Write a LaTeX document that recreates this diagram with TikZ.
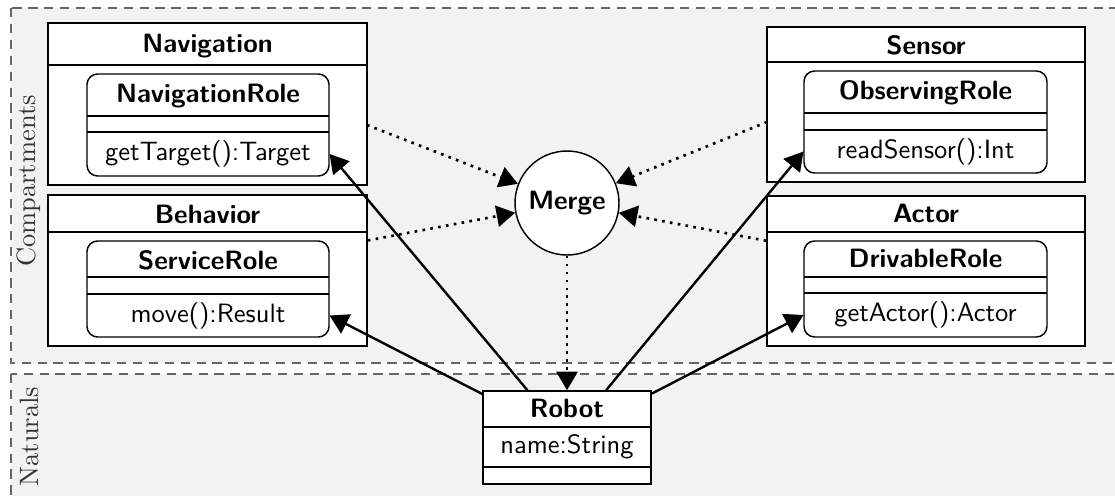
\documentclass[tikz,border=0pt]{standalone}
\usetikzlibrary{arrows.meta}
\newdimen\pxu \pxu=0.37736pt
\definecolor{bggray}{HTML}{F2F2F2}
\definecolor{dashgray}{HTML}{666666}
\begin{document}
\begin{tikzpicture}[x=0.37736pt,y=-0.37736pt,
  box/.style={draw=black, fill=white, inner sep=0, line width=0.6pt},
  rolebox/.style={draw=black, fill=white, rounded corners=4pt, inner sep=0, line width=0.55pt},
  region/.style={draw=dashgray, dash pattern=on 3.5pt off 2.5pt, fill=bggray, line width=0.7pt},
  sep/.style={line width=0.55pt},
  txt/.style={font=\sffamily, anchor=base, inner sep=0},
  ttl/.style={font=\sffamily\bfseries, anchor=base, inner sep=0},
  part/.style={inner sep=0, font=\sffamily},
  lbl/.style={font=\rmfamily, rotate=90, inner sep=0, text=black!80},
  assoc/.style={line width=0.9pt, -{Triangle[length=7pt,width=8pt]}},
  merg/.style={line width=1pt, dotted, -{Triangle[length=7pt,width=8pt]}}
]
\useasboundingbox (0,0) rectangle (1115,495);
\clip (0,0) rectangle (1115,495);
\fill[white] (0,0) rectangle (1115,495);
% regions
\draw[region] (11,8) rectangle (1140,363);
\draw[region] (11,374) rectangle (1140,520);
\node[lbl] (lcomp) at (29,181) {Compartments};
\node[lbl] (lnat) at (29,436.5) {Naturals};

% Navigation
\node[box, minimum width=319\pxu, minimum height=162\pxu] (nav) at (207.5,104) {};
\draw[sep] (48,65) -- (367,65);
\coordinate (navb) at (367,125);
\node[ttl] (navt) at (207.5,52) {Navigation};
\node[rolebox, minimum width=242\pxu, minimum height=102\pxu] (navr) at (208,125) {};
\draw[sep] (87,116) -- (329,116);
\draw[sep] (87,132) -- (329,132);
\node[ttl] (navrt) at (208,102) {NavigationRole};
\node[part, minimum width=242\pxu, minimum height=44\pxu] (navm) at (208,154) {getTarget():Target};

% Behavior
\node[box, minimum width=319\pxu, minimum height=151\pxu] (beh) at (207.5,270.5) {};
\draw[sep] (48,232) -- (367,232);
\node[ttl] (beht) at (207.5,223) {Behavior};
\node[rolebox, minimum width=242\pxu, minimum height=96\pxu] (serr) at (208,289) {};
\draw[sep] (87,277) -- (329,277);
\draw[sep] (87,294) -- (329,294);
\node[ttl] (serrt) at (208,269) {ServiceRole};
\node[part, minimum width=242\pxu, minimum height=43\pxu] (serm) at (208,315.5) {move():Result};

% Sensor
\node[box, minimum width=318\pxu, minimum height=155\pxu] (sen) at (926,104.5) {};
\draw[sep] (767,62) -- (1085,62);
\coordinate (senb) at (767,122);
\node[ttl] (sent) at (926,54) {Sensor};
\node[rolebox, minimum width=243\pxu, minimum height=102\pxu] (obsr) at (925.5,122) {};
\draw[sep] (804,113) -- (1047,113);
\draw[sep] (804,130) -- (1047,130);
\node[ttl] (obsrt) at (925.5,99.5) {ObservingRole};
\node[part, minimum width=243\pxu, minimum height=43\pxu] (obsm) at (925.5,151.5) {readSensor():Int};

% Actor
\node[box, minimum width=318\pxu, minimum height=150\pxu] (act) at (926,271) {};
\draw[sep] (767,232) -- (1085,232);
\node[ttl] (actt) at (926,222.7) {Actor};
\node[rolebox, minimum width=243\pxu, minimum height=96\pxu] (drvr) at (925.5,289) {};
\draw[sep] (804,277) -- (1047,277);
\draw[sep] (804,293) -- (1047,293);
\node[ttl] (drvrt) at (925.5,267.3) {DrivableRole};
\node[part, minimum width=243\pxu, minimum height=44\pxu] (drvm) at (925.5,315) {getActor():Actor};

% Robot
\node[box, minimum width=168\pxu, minimum height=93\pxu] (robot) at (567,437.5) {};
\draw[sep] (483,427) -- (651,427);
\draw[sep] (483,467) -- (651,467);
\node[ttl] (robt) at (567,417.7) {Robot};
\node[txt] (roba) at (567,453.3) {name:String};

% Merge
\node[circle, draw, fill=white, minimum size=104\pxu, inner sep=0, font=\sffamily\bfseries, line width=0.55pt] (merge) at (567,203) {Merge};

% connectors
\draw[merg] (navb) -- (merge);
\draw[merg] (beh) -- (merge);
\draw[merg] (senb) -- (merge);
\draw[merg] (act) -- (merge);
\draw[merg] (merge) -- (robot);
\draw[assoc] (robot) -- (navm.east);
\draw[assoc] (robot) -- (serm.east);
\draw[assoc] (robot) -- (obsm.west);
\draw[assoc] (robot) -- (drvm.west);
\end{tikzpicture}
\end{document}
